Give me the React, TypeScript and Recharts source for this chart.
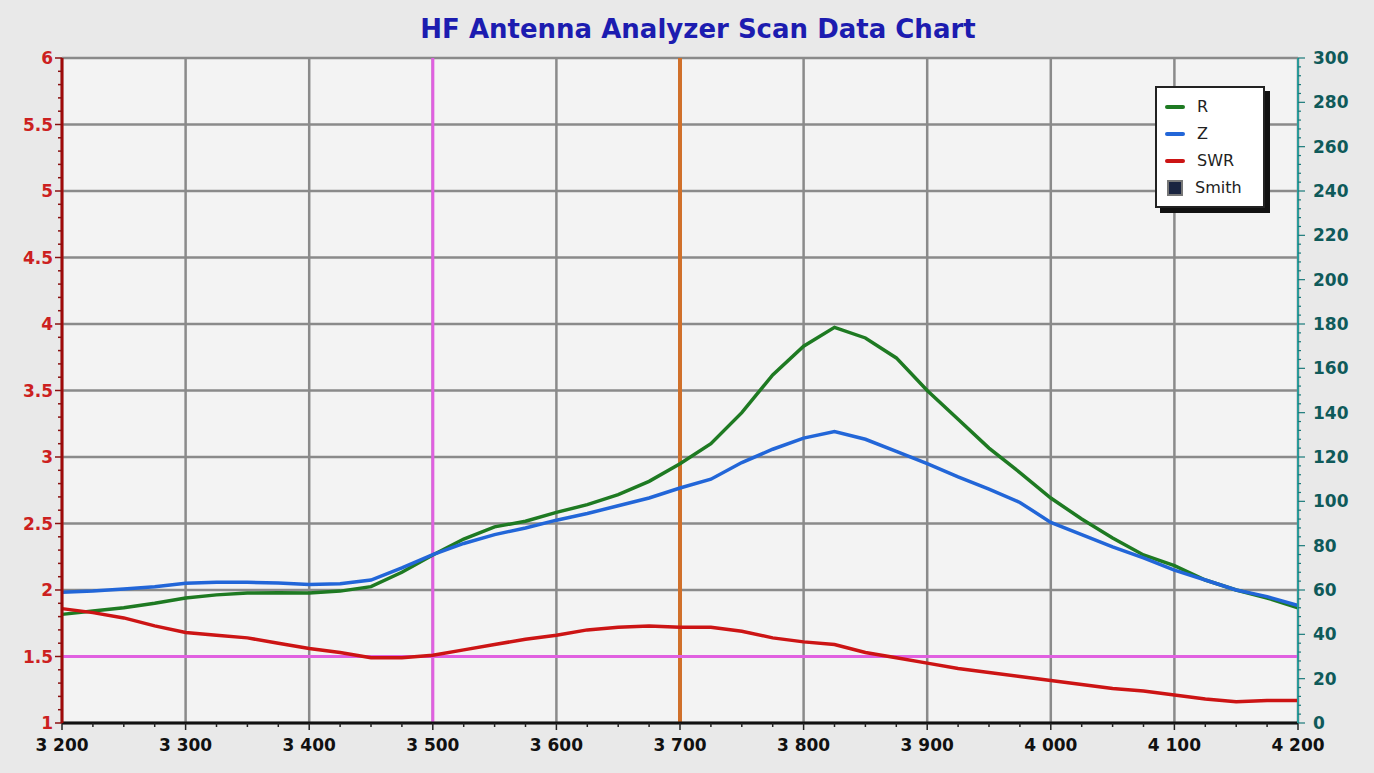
import { LineChart, Line, XAxis, YAxis, CartesianGrid, ReferenceLine, Legend } from 'recharts';

// MHz steps of the scan
const freqs = [
  3200, 3225, 3250, 3275, 3300, 3325, 3350, 3375, 3400, 3425, 3450, 3475, 3500, 3525,
  3550, 3575, 3600, 3625, 3650, 3675, 3700, 3725, 3750, 3775, 3800, 3825, 3850, 3875,
  3900, 3925, 3950, 3975, 4000, 4025, 4050, 4075, 4100, 4125, 4150, 4175, 4200,
];
const rValues = [
  49, 50.5, 52, 54, 56.4, 57.8, 58.6, 58.8, 58.6, 59.5, 61.5, 68, 75.8, 83,
  88.5, 91, 95, 98.5, 103, 109, 117, 126, 140, 157, 170, 178.5, 173.7, 164.7,
  150, 137, 124, 113, 101.5, 92, 83.5, 75.8, 71, 64.5, 60, 56.4, 52,
];
const zValues = [
  59, 59.5, 60.5, 61.5, 63, 63.5, 63.5, 63.2, 62.5, 62.8, 64.5, 70, 76, 81,
  85, 88, 91.5, 94.5, 98, 101.5, 106, 110, 117.5, 123.5, 128.5, 131.5, 128, 122.5,
  117, 111, 105.5, 99.5, 90.5, 85, 79.5, 74.5, 69, 64.5, 60, 57, 53,
];
const swrValues = [
  1.86, 1.83, 1.79, 1.73, 1.68, 1.66, 1.64, 1.6, 1.56, 1.53, 1.49, 1.49, 1.51, 1.55,
  1.59, 1.63, 1.66, 1.7, 1.72, 1.73, 1.72, 1.72, 1.69, 1.64, 1.61, 1.59, 1.53, 1.49,
  1.45, 1.41, 1.38, 1.35, 1.32, 1.29, 1.26, 1.24, 1.21, 1.18, 1.16, 1.17, 1.17,
];

const seriesOrder = ['R', 'Z', 'SWR'];
const xMajor = [3200, 3300, 3400, 3500, 3600, 3700, 3800, 3900, 4000, 4100, 4200];
const swrMajor = [1, 1.5, 2, 2.5, 3, 3.5, 4, 4.5, 5, 5.5, 6];
const ohmMajor = [0, 20, 40, 60, 80, 100, 120, 140, 160, 180, 200, 220, 240, 260, 280, 300];
const markerFreqs = [3500];
const tuneFreq = 3700;
const swrLimit = 1.5;

// minor tick positions
const xTicks = Array.from({ length: 41 }, (_, i) => 3200 + i * 25);
const swrTicks = Array.from({ length: 51 }, (_, i) => Math.round((1 + i * 0.1) * 10) / 10);
const ohmTicks = Array.from({ length: 76 }, (_, i) => i * 4);

const data = freqs.map((f, i) => ({ f, R: rValues[i], Z: zValues[i], SWR: swrValues[i] }));

const FONT = '"DejaVu Sans", Verdana, sans-serif';

const fmtFreq = (v: number) => `${Math.floor(v / 1000)} ${String(v % 1000).padStart(3, '0')}`;

function XTick({ x, y, payload }: any) {
  const major = xMajor.includes(payload.value);
  return (
    <g>
      <line x1={x} y1={y} x2={x} y2={y + (major ? 7 : 4)} stroke="#222" strokeWidth={1.5} />
      {major && (
        <text x={x} y={y + 28} textAnchor="middle" fontFamily={FONT} fontWeight="bold" fontSize={17} fill="#111">
          {fmtFreq(payload.value)}
        </text>
      )}
    </g>
  );
}

function SwrTick({ x, y, payload }: any) {
  const major = swrMajor.includes(payload.value);
  return (
    <g>
      <line x1={x - (major ? 7 : 4)} y1={y} x2={x} y2={y} stroke="#8a1010" strokeWidth={1.5} />
      {major && (
        <text x={x - 9} y={y + 6} textAnchor="end" fontFamily={FONT} fontWeight="bold" fontSize={17} fill="#cc2020">
          {payload.value}
        </text>
      )}
    </g>
  );
}

function OhmTick({ x, y, payload }: any) {
  const major = ohmMajor.includes(payload.value);
  return (
    <g>
      <line x1={x} y1={y} x2={x + (major ? 7 : 3)} y2={y} stroke="#1a7a7a" strokeWidth={1.2} />
      {major && (
        <text x={x + 15} y={y + 6} textAnchor="start" fontFamily={FONT} fontWeight="bold" fontSize={17} fill="#0f5a5a">
          {payload.value}
        </text>
      )}
    </g>
  );
}

function LegendBox({ payload }: any) {
  const items = [...(payload || [])].sort(
    (a: any, b: any) => seriesOrder.indexOf(a.value) - seriesOrder.indexOf(b.value)
  );
  return (
    <div
      style={{
        background: '#fff',
        border: '2px solid #222',
        boxShadow: '5px 5px 0 #111',
        width: 98,
        padding: '5px 0 5px 8px',
        fontFamily: FONT,
        fontSize: 16,
        color: '#222',
      }}
    >
      {items.map((p: any) => (
        <div key={p.value} style={{ display: 'flex', alignItems: 'center', height: 27 }}>
          <span style={{ width: 20, height: 4, background: p.color, marginRight: 12, borderRadius: 2 }} />
          {p.value}
        </div>
      ))}
      <div style={{ display: 'flex', alignItems: 'center', height: 27 }}>
        <span
          style={{ width: 12, height: 12, background: '#1a2440', border: '2px solid #777', marginRight: 12, marginLeft: 2 }}
        />
        Smith
      </div>
    </div>
  );
}

export default function App() {
  return (
    <div style={{ position: 'absolute', left: 0, top: 0, width: 1374, height: 773, background: '#e9e9e9' }}>
      <div
        style={{
          position: 'absolute',
          left: 0,
          width: 1396,
          top: 14,
          textAlign: 'center',
          fontFamily: FONT,
          fontWeight: 'bold',
          fontSize: 26,
          color: '#1c1cb0',
        }}
      >
        HF Antenna Analyzer Scan Data Chart
      </div>
      <LineChart
        width={1374}
        height={773}
        data={data}
        margin={{ top: 58, right: 16, bottom: 10, left: 12 }}
        style={{ position: 'absolute', left: 0, top: 0 }}
      >
        <CartesianGrid
          xAxisId="x"
          yAxisId="swr"
          fill="#f3f3f3"
          stroke="#8a8a8a"
          strokeWidth={2.5}
          verticalValues={xMajor}
          horizontalValues={swrMajor}
        />
        <XAxis
          xAxisId="x"
          dataKey="f"
          type="number"
          domain={[3200, 4200]}
          ticks={xTicks}
          interval={0}
          tick={<XTick />}
          tickLine={false}
          tickSize={0}
          tickMargin={0}
          height={40}
          axisLine={{ stroke: '#111', strokeWidth: 3 }}
        />
        <YAxis
          yAxisId="swr"
          orientation="left"
          domain={[1, 6]}
          ticks={swrTicks}
          interval={0}
          tick={<SwrTick />}
          tickLine={false}
          tickSize={0}
          tickMargin={0}
          width={50}
          axisLine={{ stroke: '#a00a0a', strokeWidth: 3 }}
        />
        <YAxis
          yAxisId="ohm"
          orientation="right"
          domain={[0, 300]}
          ticks={ohmTicks}
          interval={0}
          tick={<OhmTick />}
          tickLine={false}
          tickSize={0}
          tickMargin={0}
          width={60}
          axisLine={{ stroke: '#2a9a9a', strokeWidth: 2 }}
        />
        {markerFreqs.map((m) => (
          <ReferenceLine key={m} xAxisId="x" yAxisId="swr" x={m} stroke="#e060e0" strokeWidth={3} />
        ))}
        <ReferenceLine xAxisId="x" yAxisId="swr" x={tuneFreq} stroke="#d0702a" strokeWidth={4} />
        <ReferenceLine xAxisId="x" yAxisId="swr" y={swrLimit} stroke="#e060e0" strokeWidth={3} />
        <Line
          xAxisId="x"
          yAxisId="ohm"
          type="linear"
          dataKey="R"
          name="R"
          stroke="#1e7a22"
          strokeWidth={3.5}
          dot={false}
          isAnimationActive={false}
        />
        <Line
          xAxisId="x"
          yAxisId="ohm"
          type="linear"
          dataKey="Z"
          name="Z"
          stroke="#2266d8"
          strokeWidth={3.5}
          dot={false}
          isAnimationActive={false}
        />
        <Line
          xAxisId="x"
          yAxisId="swr"
          type="linear"
          dataKey="SWR"
          name="SWR"
          stroke="#cc1414"
          strokeWidth={3.5}
          dot={false}
          isAnimationActive={false}
        />
        <Legend
          layout="vertical"
          align="center"
          verticalAlign="middle"
          content={<LegendBox />}
          wrapperStyle={{ left: 1155, top: 86, width: 112 }}
        />
      </LineChart>
    </div>
  );
}
